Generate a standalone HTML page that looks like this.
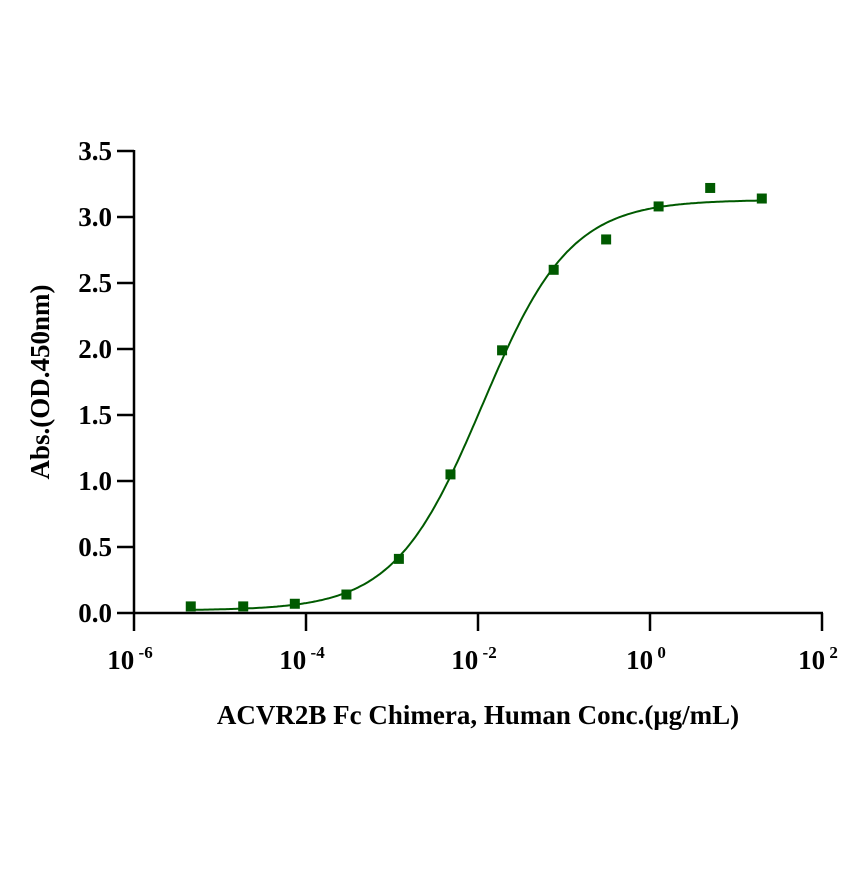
<!DOCTYPE html>
<html><head><meta charset="utf-8"><style>
body{margin:0;background:#fff;}
svg text{font-family:"Liberation Serif",serif;font-weight:bold;fill:#000;}
</style></head><body>
<svg id="chart" width="867" height="867" viewBox="0 0 867 867" xmlns="http://www.w3.org/2000/svg">
<g id="axes"></g>
<path id="fit" fill="none" stroke="#005a00" stroke-width="2"></path>
<g id="pts"></g>
<text x="478" y="724" text-anchor="middle" font-size="27">ACVR2B Fc Chimera, Human Conc.(μg/mL)</text>
<text transform="translate(49,382) rotate(-90)" text-anchor="middle" font-size="27">Abs.(OD.450nm)</text>
</svg>
<script>
const logConc=[-5.34,-4.73,-4.13,-3.53,-2.92,-2.32,-1.72,-1.12,-0.51,0.10,0.70,1.30];
const absVals=[0.05,0.05,0.07,0.14,0.41,1.05,1.99,2.60,2.83,3.08,3.22,3.14];
const yTicks=[0,0.5,1.0,1.5,2.0,2.5,3.0,3.5];
const xTickExp=[-6,-4,-2,0,2];
const fitParams=[0.02,3.13,-1.95,0.85];
const NS="http://www.w3.org/2000/svg";
const X=v=>134+(v+6)*86, Y=v=>613-v*132;
const axes=document.getElementById('axes');
function mk(t,a,p){const e=document.createElementNS(NS,t);for(const k in a)e.setAttribute(k,a[k]);p.appendChild(e);return e;}
let l=mk('line',{x1:134,y1:Y(3.5)-1,x2:134,y2:614,stroke:'#000','stroke-width':2.5},axes);

l=mk('line',{x1:133,y1:613,x2:X(2)+1,y2:613,stroke:'#000','stroke-width':2.5},axes);

yTicks.forEach(v=>{
 const t=mk('line',{x1:117,y1:Y(v),x2:134,y2:Y(v),stroke:'#000','stroke-width':2.5},axes);
 
 const s=mk('text',{x:112,y:Y(v)+9,'text-anchor':'end','font-size':27},axes);s.textContent=v.toFixed(1);
 
});
xTickExp.forEach(e=>{
 const t=mk('line',{x1:X(e),y1:613,x2:X(e),y2:631,stroke:'#000','stroke-width':2.5},axes);
 
 const s=mk('text',{x:X(e)-4,y:669,'text-anchor':'middle','font-size':27},axes);
 
 s.appendChild(document.createTextNode('10'));
 const sp=mk('tspan',{dy:-11,'font-size':17},s);sp.textContent=' '+(e<0?'-'+(-e):e);
});
const [b,tp,ec,h]=fitParams;let d='';
for(let x=-5.34;x<=1.301;x+=0.02){const y=b+(tp-b)/(1+Math.pow(10,(ec-x)*h));d+=(d?'L':'M')+X(x).toFixed(1)+','+Y(y).toFixed(1);}
document.getElementById('fit').setAttribute('d',d);
const pts=document.getElementById('pts');
logConc.forEach((c,i)=>{
 const r=mk('rect',{x:X(c)-5,y:Y(absVals[i])-5,width:10,height:10,fill:'#005a00'},pts);
 
});
</script>
</body></html>
